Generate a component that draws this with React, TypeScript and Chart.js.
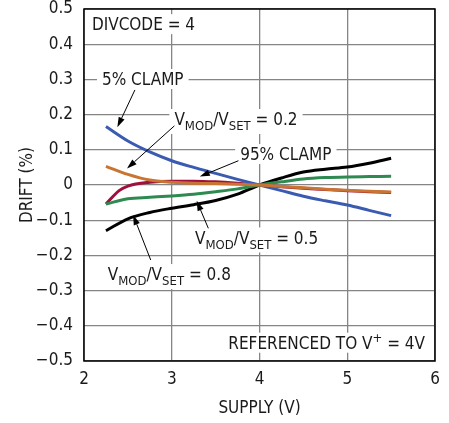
import React, { useEffect, useRef } from 'react';
import { Chart, registerables } from 'chart.js';

Chart.register(...registerables);

const FONT = "'Liberation Sans Narrow', 'Arial Narrow', 'DejaVu Sans Condensed', sans-serif";

// Data
const supplyV = [2.25, 2.5, 2.75, 3, 3.25, 3.5, 3.75, 4, 4.25, 4.5, 4.75, 5, 5.25, 5.5];
const supplyRed = [2.25, 2.4, 2.5, 2.75, 3, 3.25, 3.5, 3.75, 4, 4.25, 4.5, 4.75, 5, 5.25, 5.5];
const clamp5 = [0.166, 0.125, 0.094, 0.069, 0.05, 0.033, 0.016, 0, -0.016, -0.032, -0.045, -0.057, -0.072, -0.087];
const vmod02 = [0.053, 0.03, 0.014, 0.008, 0.005, 0.004, 0.002, 0, -0.004, -0.008, -0.012, -0.015, -0.018, -0.02];
const clamp95 = [-0.054, -0.016, -0.003, 0.008, 0.011, 0.011, 0.009, 0.005, 0, -0.005, -0.009, -0.013, -0.016, -0.019, -0.021];
const vmod05 = [-0.054, -0.039, -0.035, -0.031, -0.026, -0.019, -0.011, 0, 0.009, 0.017, 0.021, 0.023, 0.024, 0.025];
const vmod08 = [-0.13, -0.096, -0.078, -0.066, -0.056, -0.044, -0.026, 0, 0.02, 0.037, 0.045, 0.051, 0.062, 0.076];

const xTicks = [2, 3, 4, 5, 6];
const yTicks = [-0.5, -0.4, -0.3, -0.2, -0.1, 0, 0.1, 0.2, 0.3, 0.4, 0.5];

type Seg = { t: string; sub?: boolean; sup?: boolean };
type Label = { segs: Seg[]; x: number; y: number; align: 'left' | 'center' | 'right' };

const vmod = (v: string): Seg[] => [
  { t: 'V' }, { t: 'MOD', sub: true }, { t: '/V' }, { t: 'SET', sub: true }, { t: ' = ' + v },
];

const labels: Label[] = [
  { segs: [{ t: 'DIVCODE = 4' }], x: 2.09, y: 0.457, align: 'left' },
  { segs: [{ t: '5% CLAMP' }], x: 2.67, y: 0.301, align: 'center' },
  { segs: vmod('0.2'), x: 3.03, y: 0.1875, align: 'left' },
  { segs: [{ t: '95% CLAMP' }], x: 4.3, y: 0.088, align: 'center' },
  { segs: vmod('0.5'), x: 3.265, y: -0.149, align: 'left' },
  { segs: vmod('0.8'), x: 2.27, y: -0.253, align: 'left' },
  { segs: [{ t: 'REFERENCED TO V' }, { t: '+', sup: true }, { t: ' = 4V' }], x: 5.886, y: -0.448, align: 'right' },
];

const arrows = [
  [2.58, 0.27, 2.38, 0.164],
  [3.03, 0.168, 2.49, 0.047],
  [3.76, 0.069, 3.32, 0.024],
  [3.417, -0.123, 3.284, -0.045],
  [2.76, -0.213, 2.56, -0.085],
];

const MAIN = 17;
const SMALL = 13;

function segFont(s: Seg) {
  return `${s.sub || s.sup ? SMALL : MAIN}px ${FONT}`;
}

function layoutLabel(ctx: CanvasRenderingContext2D, chart: any, l: Label) {
  let w = 0;
  const widths = l.segs.map((s) => {
    ctx.font = segFont(s);
    const m = ctx.measureText(s.t).width;
    w += m;
    return m;
  });
  const px = chart.scales.x.getPixelForValue(l.x);
  const py = chart.scales.y.getPixelForValue(l.y);
  let x0 = px;
  if (l.align === 'center') x0 = px - w / 2;
  if (l.align === 'right') x0 = px - w;
  const base = py + 6.2;
  return { x0, w, widths, base, py };
}

const annotPlugin = {
  id: 'annot',
  beforeDatasetsDraw(chart: any) {
    const ctx = chart.ctx as CanvasRenderingContext2D;
    ctx.save();
    ctx.fillStyle = '#ffffff';
    labels.forEach((l) => {
      const { x0, w, py } = layoutLabel(ctx, chart, l);
      const hasSub = l.segs.some((s) => s.sub);
      ctx.fillRect(x0 - 5, py - 10, w + 10, hasSub ? 25 : 20);
    });
    ctx.restore();
  },
  afterDatasetsDraw(chart: any) {
    const ctx = chart.ctx as CanvasRenderingContext2D;
    const { chartArea } = chart;
    ctx.save();
    // frame
    ctx.strokeStyle = '#000';
    ctx.lineWidth = 1.5;
    ctx.strokeRect(chartArea.left, chartArea.top, chartArea.right - chartArea.left, chartArea.bottom - chartArea.top);
    // text
    ctx.fillStyle = '#1a1a1a';
    ctx.textBaseline = 'alphabetic';
    ctx.textAlign = 'left';
    labels.forEach((l) => {
      const { x0, widths, base } = layoutLabel(ctx, chart, l);
      let x = x0;
      l.segs.forEach((s, i) => {
        ctx.font = segFont(s);
        const dy = s.sub ? 5 : s.sup ? -7 : 0;
        ctx.fillText(s.t, x, base + dy);
        x += widths[i];
      });
    });
    // arrows
    const xs = chart.scales.x;
    const ys = chart.scales.y;
    ctx.strokeStyle = '#000';
    ctx.fillStyle = '#000';
    ctx.lineWidth = 1;
    arrows.forEach(([a, b, c, d]) => {
      const x1 = xs.getPixelForValue(a);
      const y1 = ys.getPixelForValue(b);
      const x2 = xs.getPixelForValue(c);
      const y2 = ys.getPixelForValue(d);
      const ang = Math.atan2(y2 - y1, x2 - x1);
      const L = 10;
      const W = 3.2;
      const bx = x2 - L * Math.cos(ang);
      const by = y2 - L * Math.sin(ang);
      ctx.beginPath();
      ctx.moveTo(x1, y1);
      ctx.lineTo(bx, by);
      ctx.stroke();
      ctx.beginPath();
      ctx.moveTo(x2, y2);
      ctx.lineTo(bx + W * Math.sin(ang), by - W * Math.cos(ang));
      ctx.lineTo(bx - W * Math.sin(ang), by + W * Math.cos(ang));
      ctx.closePath();
      ctx.fill();
    });
    ctx.restore();
  },
};

const toPts = (xs: number[], ys: number[]) => xs.map((x, i) => ({ x, y: ys[i] }));

export default function App() {
  const ref = useRef<HTMLCanvasElement | null>(null);
  useEffect(() => {
    document.body.style.margin = '0';
    const canvas = ref.current!;
    const ds = (label: string, data: any[], color: string) => ({
      label,
      data,
      borderColor: color,
      backgroundColor: color,
      borderWidth: 3,
      pointRadius: 0,
      fill: false,
      cubicInterpolationMode: 'monotone' as const,
    });
    const chart = new Chart(canvas, {
      type: 'line',
      data: {
        datasets: [
          ds('V_MOD/V_SET = 0.2', toPts(supplyV, vmod02), '#c87533'),
          ds('V_MOD/V_SET = 0.5', toPts(supplyV, vmod05), '#2e8a50'),
          ds('5% CLAMP', toPts(supplyV, clamp5), '#3a5bb0'),
          ds('95% CLAMP', toPts(supplyRed, clamp95), '#a0103c'),
          ds('V_MOD/V_SET = 0.8', toPts(supplyV, vmod08), '#000000'),
        ],
      },
      options: {
        responsive: false,
        animation: false,
        layout: { padding: { top: 9, right: 14, left: 0, bottom: 0 } },
        plugins: { legend: { display: false }, tooltip: { enabled: false } },
        scales: {
          x: {
            type: 'linear',
            min: 2,
            max: 6,
            afterBuildTicks: (s: any) => { s.ticks = xTicks.map((v) => ({ value: v })); },
            afterFit: (s: any) => { s.height = 62; s.paddingLeft = 0; s.paddingRight = 0; },
            grid: { color: '#858585', lineWidth: 1.3, drawTicks: false },
            border: { display: false },
            ticks: {
              color: '#1a1a1a',
              font: { family: FONT, size: MAIN },
              padding: 8,
              maxRotation: 0,
              callback: (v: any) => String(v),
            },
            title: {
              display: true,
              text: 'SUPPLY (V)',
              color: '#1a1a1a',
              font: { family: FONT, size: MAIN, lineHeight: 1.2 },
              padding: { top: 0, bottom: 4 },
            },
          },
          y: {
            type: 'linear',
            min: -0.5,
            max: 0.5,
            afterBuildTicks: (s: any) => { s.ticks = yTicks.map((v) => ({ value: v })); },
            afterFit: (s: any) => { s.width = 84; s.paddingTop = 0; s.paddingBottom = 0; },
            grid: { color: '#858585', lineWidth: 1.3, drawTicks: false },
            border: { display: false },
            ticks: {
              color: '#1a1a1a',
              font: { family: FONT, size: MAIN },
              padding: 11,
              callback: (v: any) => {
                const r = Math.round(Number(v) * 10) / 10;
                if (r === 0) return '0';
                return r < 0 ? '\u2212' + Math.abs(r).toFixed(1) : r.toFixed(1);
              },
            },
            title: {
              display: true,
              text: 'DRIFT (%)',
              color: '#1a1a1a',
              font: { family: FONT, size: MAIN, lineHeight: 1.2 },
              padding: { top: 17, bottom: 0 },
            },
          },
        },
      },
      plugins: [annotPlugin],
    });
    return () => chart.destroy();
  }, []);
  return (
    <div style={{ width: 449, height: 423 }}>
      <canvas ref={ref} width={449} height={423} style={{ display: 'block' }} />
    </div>
  );
}
